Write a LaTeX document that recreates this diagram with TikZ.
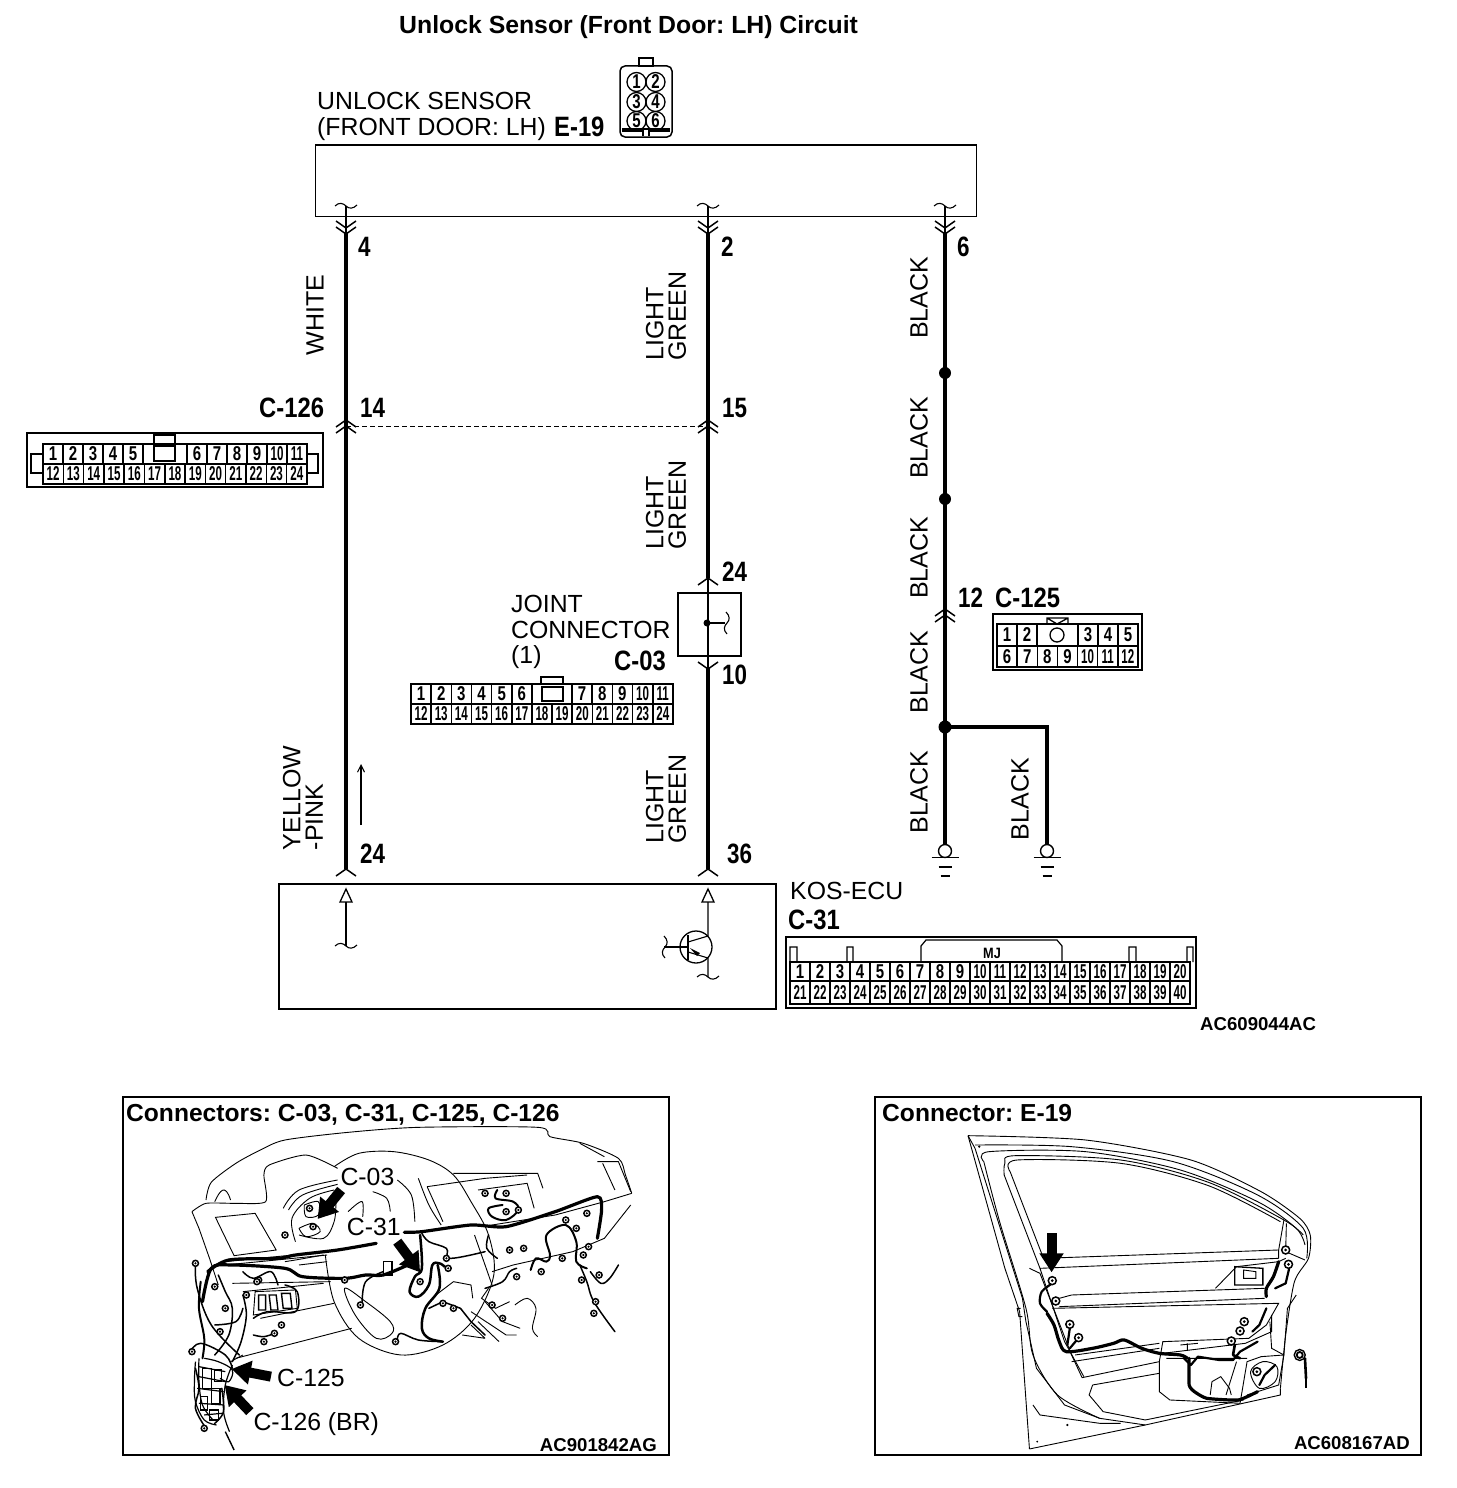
\documentclass[tikz,border=0pt]{standalone}
\usepackage{fontspec}
\usepackage{graphicx}
\setmainfont{Liberation Sans}
\usetikzlibrary{arrows.meta}
\frenchspacing
\newcommand\bc[1]{\scalebox{.8}[1]{\bfseries #1}}
\newcommand\bcc[1]{\scalebox{.85}[1]{\bfseries #1}}
\newcommand\tn[1]{\ifnum#1>9 \scalebox{.58}[1]{\bfseries #1}\else\scalebox{.75}[1]{\bfseries #1}\fi}
\newcommand\cellrow[7]{%
 \foreach \n in {#6,...,#7}{%
  \pgfmathsetmacro\cx{#2+(\n-#6)*#3}%
  \draw[cellline] (\cx,#4) rectangle ++(#3,#5);
  \node[tnum] (#1-\n) at ({\cx+#3/2},{#4+#5/2}) {\tn{\n}};
 }}
\tikzset{
 x=1pt,y=-1pt,
 wire/.style={line width=4pt},
 thinw/.style={line width=1.1pt},
 cellline/.style={line width=1.5pt},
 tnum/.style={inner sep=0pt,font=\fontsize{20}{20}\selectfont},
 lab/.style={inner sep=0pt,font=\fontsize{24.8}{25.5}\selectfont,align=left},
 rlab/.style={inner sep=0pt,font=\fontsize{25}{22.5}\selectfont,align=left,rotate=90},
 blab/.style={inner sep=0pt,font=\fontsize{28}{28}\selectfont},
 head/.style={inner sep=0pt,font=\bfseries\fontsize{24.6}{25}\selectfont},
 code/.style={inner sep=0pt,font=\bfseries\fontsize{18.6}{19}\selectfont},
 ill/.style={line width=.9pt},
 har/.style={line width=3.2pt,line cap=round,line join=round},
 blk/.style={line width=10pt,-{Triangle[length=19pt,width=23pt]}},
 chevdown/.pic={\draw[line width=1.5pt] (-10,-7)--(0,0)--(10,-7);},
 chevup/.pic={\draw[line width=1.5pt] (-10,7)--(0,0)--(10,7);},
 tilde/.pic={\draw[thinw] (-11,0) .. controls (-7,-4) and (-3,-3) .. (0,0) .. controls (3,3) and (7,3) .. (11,-1);},
 gnd/.pic={\draw[line width=1.4pt] (0,0) circle (6.5);
   \draw[line width=1.6pt] (-13.5,6.5)--(13.5,6.5) (-6.5,16)--(6.5,16) (-4.5,25)--(4.5,25);},
}
\begin{document}
\begin{tikzpicture}
\useasboundingbox (0,0) rectangle (1456,1488);
\fill[white] (0,0) rectangle (1456,1488);

% title
\node[inner sep=0pt,anchor=base west,font=\bfseries\fontsize{24.8}{25}\selectfont] (title) at (399,34) {Unlock Sensor (Front Door: LH) Circuit};

% E-19 header
\node[lab,anchor=north west] (sensorlab) at (317,92) {UNLOCK SENSOR\\(FRONT DOOR: LH)};
\node[blab,anchor=base west] (e19) at (554,136) {\bcc{E-19}};
\draw[line width=1.5pt,rounded corners=5pt] (620,66) rectangle (672,137);
\draw[line width=1.4pt] (639,66) rectangle (653,58);
\draw[line width=1.2pt] (622,129)--(670,129) (622,131)--(643,131)--(643,136) (670,131)--(649,131)--(649,136);
\foreach \i/\cxx/\cyy in {1/636.5/82,2/655.5/82,3/636.5/102,4/655.5/102,5/636.5/121,6/655.5/121}{
 \draw[line width=1.3pt] (\cxx,\cyy) circle (9.5);
 \node[tnum] (e19-\i) at (\cxx,\cyy) {\tn{\i}};
}

% sensor box
\node[draw,line width=1pt,minimum width=661pt,minimum height=71pt,inner sep=0pt,anchor=north west] (sensor) at (315,145) {};
\draw[line width=2.2pt] (sensor.north west)--(sensor.north east);

% wire coordinates
\coordinate (a0) at (346,206); \coordinate (a1) at (346,232); \coordinate (a2) at (346,869);
\coordinate (b0) at (708,206); \coordinate (b1) at (708,232); \coordinate (b2) at (708,578);
\coordinate (b3) at (708,668); \coordinate (b4) at (708,869);
\coordinate (c0) at (945,206); \coordinate (c1) at (945,232); \coordinate (c2) at (945,845);
\coordinate (cj) at (945,727); \coordinate (d1) at (1047,727); \coordinate (d2) at (1047,845);
\coordinate (s1) at (945,373); \coordinate (s2) at (945,499);

\draw[wire] (a1)--(a2);
\draw[wire] (b1)--(b2);
\draw[wire] (b3)--(b4);
\draw[wire] (c1)--(c2);
\draw[wire,line join=miter] (cj)--(d1)--(d2);
\draw[thinw] (a0)--(a1) (b0)--(b1) (c0)--(c1);
\foreach \w in {a0,b0,c0} \path (\w) pic {tilde};
\foreach \x in {346,708,945}{
 \path (\x,228) pic {chevdown};
 \path (\x,234) pic {chevdown};
}
\fill (s1) circle (6); \fill (s2) circle (6); \fill (cj) circle (6.5);

% C-126 / 15 dashed
\coordinate (da) at (346,426); \coordinate (db) at (708,426);
\draw[dashed,line width=1pt,dash pattern=on 5pt off 3pt] (da)--(db);
\foreach \x in {346,708}{\path (\x,420) pic {chevup}; \path (\x,426) pic {chevup};}
\path (945,609) pic {chevup}; \path (945,615) pic {chevup};

% joint
\node[draw,line width=1.6pt,minimum width=63pt,minimum height=63pt,inner sep=0pt,anchor=north west] (joint) at (677,592) {};
\coordinate (j1) at (708,578); \coordinate (j2) at (708,668); \coordinate (jd) at (707,623); \coordinate (jt) at (725,623);
\draw[thinw] (j1)--(j2);
\fill (jd) circle (3.5);
\draw[thinw] (jd)--(jt);
\path (jt) ++(2,0) pic[rotate=90] {tilde};
\path (708,578) pic {chevup};
\path (708,669) pic {chevdown};

% wire labels
\node[rlab] (wl1) at (315,315) {WHITE};
\node[rlab] (wl2) at (666,316) {LIGHT\\GREEN};
\node[rlab] (wl3) at (666,505) {LIGHT\\GREEN};
\node[rlab] (wl4) at (666,799) {LIGHT\\GREEN};
\node[rlab] (wl5) at (303,798) {YELLOW\\-PINK};
\foreach \i/\x/\y in {1/919/298,2/919/438,3/919/558,4/919/672,5/919/792,6/1020/799}{
 \node[rlab] (bk\i) at (\x,\y) {BLACK};
}

% pin numbers
\foreach \nm/\x/\y/\t in {p1/358/256/4,p2/721/256/2,p3/957/256/6,p4/360/417/14,p5/722/417/15,p6/722/581/24,p7/722/684/10,p8/958/607/12,p9/360/863/24,p10/727/863/36}{
 \node[blab,anchor=base west] (\nm) at (\x,\y) {\bc{\t}};
}
\foreach \nm/\x/\y/\t in {cl1/259/417/C-126,cl2/995/607/C-125,cl3/614/670/C-03,cl4/788/929/C-31}{
 \node[blab,anchor=base west] (\nm) at (\x,\y) {\bcc{\t}};
}

% ground
\path (c2) ++(0,6) pic {gnd};
\path (d2) ++(0,6) pic {gnd};

% arrow by wire
\coordinate (ua) at (361,825); \coordinate (ub) at (361,764);
\draw[line width=1.1pt,-{Straight Barb[length=7pt,width=7pt]}] (ua)--(ub);

% C-126 table
\draw[line width=2pt] (27,433) rectangle (323,487);
\draw[cellline] (43,444) rectangle (307,484);
\cellrow{c126a}{43}{20}{444}{20}{1}{5}
\foreach \n/\xx in {6/187,7/207,8/227,9/247,10/267,11/287}{
 \draw[cellline] (\xx,444) rectangle ++(20,20);
 \node[tnum] (c126b-\n) at (\xx+10,454) {\tn{\n}};
}
\foreach \n in {12,...,24}{
 \pgfmathsetmacro\cx{43+(\n-12)*20.3}
 \draw[cellline] (\cx,464) rectangle ++(20.3,20);
 \node[tnum] (c126c-\n) at (\cx+10.15,474) {\tn{\n}};
}
\draw[line width=1.2pt] (154,446) rectangle (175,461) (154,444) rectangle (175,435);
\draw[line width=1.4pt] (43,454)--(31,454)--(31,473)--(43,473) (307,454)--(318,454)--(318,473)--(307,473);

% C-03 table
\cellrow{c03a}{411}{20.15}{684}{20}{1}{6}
\foreach \n/\xx in {7/572,8/592.2,9/612.4,10/632.6,11/652.8}{
 \draw[cellline] (\xx,684) rectangle ++(20.2,20);
 \node[tnum] (c03b-\n) at (\xx+10,694) {\tn{\n}};
}
\draw[cellline] (532,684)--(572,684);
\foreach \n in {12,...,24}{
 \pgfmathsetmacro\cx{411+(\n-12)*20.15}
 \draw[cellline] (\cx,704) rectangle ++(20.15,20);
 \node[tnum] (c03c-\n) at (\cx+10.07,714) {\tn{\n}};
}
\draw[line width=1.5pt] (542,687) rectangle (563,701);
\draw[line width=1.2pt] (541,684) rectangle (563,677);
\node[lab,anchor=north west] (jointlab) at (511,595) {JOINT\\CONNECTOR\\(1)};

% C-125 table
\draw[line width=2pt] (993,614) rectangle (1142,670);
\draw[cellline] (997,624) rectangle (1138,667);
\foreach \n/\xx in {1/997,2/1017,3/1078,4/1098,5/1118}{
 \draw[cellline] (\xx,624) rectangle ++(20,22);
 \node[tnum] (c125a-\n) at (\xx+10,635) {\tn{\n}};
}
\foreach \n in {6,...,12}{
 \pgfmathsetmacro\cx{997+(\n-6)*20.14}
 \draw[cellline] (\cx,646) rectangle ++(20.14,21);
 \node[tnum] (c125b-\n) at (\cx+10.07,656.5) {\tn{\n}};
}
\draw[line width=1.3pt] (1057,635) circle (7);
\draw[line width=1.3pt] (1047,624)--(1047,618)--(1068,618)--(1068,624) (1047,618)--(1057,624)--(1068,618);

% KOS-ECU
\node[draw,line width=2.2pt,minimum width=497pt,minimum height=125pt,inner sep=0pt,anchor=north west] (kos) at (278,883) {};
\node[lab,anchor=base west] (koslab) at (790,899) {KOS-ECU};
\foreach \x in {346,708}{ \path (\x,869) pic {chevup}; }
\coordinate (t1) at (346,902); \coordinate (t1b) at (346,946);
\coordinate (t2) at (708,902); \coordinate (t2b) at (708,936);
\coordinate (t2c) at (708,958); \coordinate (t2d) at (708,977);
\foreach \x in {346,708}{\draw[line width=1.3pt] (\x,889)--(\x-6,902)--(\x+6,902)--cycle;}
\draw[thinw] (t1)--(t1b); \path (t1b) pic {tilde};
\draw[thinw] (t2)--(t2b)--(688,942);
\draw[thinw] (688,952)--(t2c)--(t2d); \path (t2d) pic {tilde};
\draw[line width=1.3pt] (696,947) circle (16);
\draw[line width=1.6pt] (688,935)--(688,960);
\draw[thinw] (664,947)--(688,947);
\path (665,947) pic[rotate=90] {tilde};
\fill (690,948)--(700,953)--(697,956)--cycle;

% C-31 table
\draw[line width=1.6pt] (786,937) rectangle (1196,1008);
\cellrow{c31a}{790}{20}{962}{19}{1}{20}
\foreach \n in {21,...,40}{
 \pgfmathsetmacro\cx{790+(\n-21)*20}
 \draw[cellline] (\cx,981) rectangle ++(20,23);
 \node[tnum] (c31b-\n) at (\cx+10,992.5) {\tn{\n}};
}
\draw[line width=1.2pt] (790,962)--(790,947)--(797,947)--(797,962)
 (847,962)--(847,947)--(853,947)--(853,962)
 (1129,962)--(1129,947)--(1136,947)--(1136,962)
 (1187,962)--(1187,947)--(1193,947)--(1193,962)
 (921,962)--(921,946)--(926,940)--(1057,940)--(1062,946)--(1062,962);
\node[inner sep=0pt,font=\bfseries\fontsize{15}{15}\selectfont] (mj) at (992,953) {\scalebox{.85}[1]{MJ}};
\node[code,anchor=base west] (code1) at (1200,1030) {AC609044AC};

% panel frames
\node[draw,line width=2pt,minimum width=546pt,minimum height=358pt,inner sep=0pt,anchor=north west] (panelL) at (122,1096) {};
\node[draw,line width=2pt,minimum width=546pt,minimum height=358pt,inner sep=0pt,anchor=north west] (panelR) at (874,1096) {};
\node[head,anchor=base west] (headL) at (126,1121) {Connectors: C-03, C-31, C-125, C-126};
\node[head,anchor=base west] (headR) at (882,1121) {Connector: E-19};
\node[code,anchor=base east] (codeL) at (657,1451) {AC901842AG};
\node[code,anchor=base east] (codeR) at (1410,1449) {AC608167AD};

% --- dashboard illustration (coordinates in crop units)
\begin{scope}[shift={(120pt,-1095pt)},x=.351pt,y=-.3333pt]
 \draw[ill] plot[smooth,tension=.45] coordinates {(245,315)(260,262)(330,205)(400,165)(470,135)(650,112)(850,97)(1190,97)(1225,125)(1320,145)(1420,190)(1440,240)(1458,295)};
 \draw[ill] (270,320) .. controls (285,285) and (300,265) .. (315,315);
 \draw[ill] plot[smooth,tension=.4] coordinates {(205,350)(245,325)(330,325)(415,320)(410,240)(425,210)(530,180)(620,220)};
 \draw[ill] (272,367)--(385,355)--(445,465)--(325,482)--cycle;
 \draw[ill] (205,350)--(225,400)--(255,490)--(280,570);
 \draw[ill] plot[smooth,tension=.55] coordinates {(585,480)(610,620)(680,730)(800,780)(920,750)(1010,670)(1065,540)(1050,420)(1000,320)(950,240)(880,195)(780,170)(680,175)(610,215)};
 \draw[ill] plot[smooth cycle,tension=.6] coordinates {(640,580)(700,620)(770,680)(775,715)(730,730)(670,660)};
 \draw[ill] plot[smooth,tension=.6] coordinates {(465,340)(510,285)(620,255)};
 \draw[ill] plot[smooth,tension=.6] coordinates {(480,345)(520,300)(620,268)};
 \draw[ill] plot[smooth,tension=.6] coordinates {(500,440)(490,370)(540,310)(610,285)};
 \draw[ill] plot[smooth,tension=.6] coordinates {(510,420)(580,430)(610,380)(615,320)};
 \draw[ill] plot[smooth,tension=.6] coordinates {(525,330)(565,320)(565,360)(530,365)(525,330)};
 \draw[ill] plot[smooth,tension=.6] coordinates {(510,400)(550,385)(570,410)(530,425)(510,400)};
 \draw[ill] plot[smooth,tension=.6] coordinates {(720,290)(760,310)(770,350)};
 \draw[ill] plot[smooth,tension=.6] coordinates {(650,350)(690,320)(690,380)};
 \draw[ill] plot[smooth,tension=.6] coordinates {(790,255)(830,300)(840,380)};
 \draw[ill] plot[smooth,tension=.6] coordinates {(850,250)(880,330)(915,390)};
 \draw[ill] (875,275)--(1040,250)--(1160,240);
 \draw[ill] (950,235)--(1190,235)--(1205,280);
 \draw[ill] (875,275)--(920,380);
 \draw[ill] (1360,200)--(1420,200)--(1455,290);
 \draw[ill] (1375,205)--(1410,285);
 \draw[ill] (1310,145)--(1380,185);
 \draw[ill] (1020,285)--(1160,265)--(1180,340);
 \draw[ill] (1458,295)--(1380,320)--(1240,360)--(1030,395);
 \draw[ill] (1455,330)--(1380,430)--(1290,470)--(1120,510)--(1060,530);
 \draw[ill] (1010,420)--(1050,540)--(1060,570);
 \draw[ill] (350,590)--(580,565);
 \draw[ill] (580,480)--(500,495)--(470,500);
 \draw[ill] (300,500)--(590,470);
 \draw[ill] (300,510)--(590,480);
 \draw[ill] (510,510)--(590,500);
 \draw[ill] (320,565)--(600,560);
 \draw[ill] (400,670)--(610,625);
 \draw[ill] (330,790)--(660,700);
 \draw[ill] (315,800)--(350,780);
 \draw[ill] plot[smooth,tension=.6] coordinates {(1125,630)(1160,610)(1185,640)(1175,700)(1190,725)};
 \draw[ill] (900,600)--(950,560)--(1000,570)--(1005,610);
 \draw[ill] (1000,650)--(1100,720)--(1130,720);
 \draw[ill] (975,720)--(1040,730) (1000,690)--(1040,730) (1020,680)--(1080,740);
 \draw[ill] (1040,620)--(1090,680)--(1140,700);
 \draw[ill] (1050,580)--(1030,610)--(1070,640)--(1110,620);
 \draw[ill] (385,590)--(500,585)--(505,640)--(380,660)--cycle;
 \draw[ill,line width=1.4pt] (395,600)--(415,600)--(415,645)--(395,645)--cycle (425,600)--(445,600)--(450,645)--(430,645)--cycle (460,595)--(485,595)--(490,640)--(465,640)--cycle;
 % lower-left bundle
 \draw[ill,line width=1.2pt] plot[smooth,tension=.6] coordinates {(215,800)(212,860)(215,920)(240,975)(275,990)};
 \draw[ill,line width=1.2pt] plot[smooth,tension=.6] coordinates {(225,790)(225,860)(235,930)(265,975)};
 \draw[ill,line width=1.2pt] plot[smooth,tension=.6] coordinates {(320,810)(300,870)(295,950)(312,1010)};
 \draw[ill,line width=1.2pt] plot[smooth,tension=.6] coordinates {(240,790)(280,800)(320,825)(310,860)(285,850)};
 \draw[ill,line width=1.2pt] (225,815)--(300,830) (225,845)--(300,860) (220,880)--(295,890) (225,925)--(295,930) (240,960)--(290,955);
 \draw[ill,line width=1.4pt] (235,820)--(235,880)--(260,880)--(260,820)--cycle (270,825)--(270,860)--(290,860)--(290,825)--cycle (230,905)--(230,945)--(250,945)--(250,905)--cycle (255,945)--(255,975)--(280,975)--(280,945)--cycle (260,880)--(260,925)--(285,925)--(285,880)--cycle;
 \draw[ill,line width=1.4pt] (300,1010)--(325,1065);
 % harness
 \draw[har] plot[smooth,tension=.5] coordinates {(250,530)(310,495)(450,490)(500,480)(620,465)(730,445)};
 \draw[har] plot[smooth,tension=.5] coordinates {(235,620)(260,520)(320,510)(470,520)(520,545)(640,550)(700,540)(750,540)(820,510)};
 \draw[har] plot[smooth,tension=.4] coordinates {(810,412)(860,410)(1000,390)(1100,395)(1240,350)(1360,305)(1372,345)(1360,430)};
 \draw[har,line width=2.5pt] plot[smooth,tension=.6] coordinates {(855,420)(860,520)(840,545)(825,590)(850,605)(880,570)(890,510)(910,505)(925,515)};
 \draw[har,line width=2.5pt] plot[smooth,tension=.6] coordinates {(905,510)(910,580)(870,640)(860,700)(880,730)(920,740)};
 \draw[har,line width=1.5pt] plot[smooth,tension=.6] coordinates {(860,415)(880,440)(930,460)(940,490)(1040,470)};
 \draw[har,line width=2pt] plot[smooth,tension=.6] coordinates {(1075,285)(1070,310)(1120,320)(1135,345)(1100,375)(1060,365)(1050,340)(1090,330)};
 \draw[har,line width=1.5pt] plot[smooth,tension=.6] coordinates {(1050,420)(1045,460)(1075,490)};
 \draw[har,line width=2pt] plot[smooth,tension=.6] coordinates {(1170,525)(1185,490)(1215,500)(1225,480)(1215,420)(1270,390)(1300,440)(1300,500)(1330,520)};
 \draw[har,line width=1.5pt] plot[smooth,tension=.6] coordinates {(1340,530)(1370,565)(1395,550)(1420,510)};
 \draw[har,line width=1.5pt] plot[smooth,tension=.6] coordinates {(1310,510)(1330,560)(1350,620)(1410,710)};
 \draw[har,line width=1.5pt] plot[smooth,tension=.6] coordinates {(1040,580)(1090,560)(1110,530)(1130,520)};
 \draw[har,line width=1.5pt] (880,640)--(920,620)--(970,640)--(1000,680)--(1040,720);
 \draw[har,line width=1.5pt] plot[smooth,tension=.6] coordinates {(790,735)(800,715)(850,735)(920,740)};
 \draw[har,line width=1.5pt] plot[smooth,tension=.6] coordinates {(690,620)(700,560)(750,530)};
 \draw[har,line width=2pt] plot[smooth,tension=.6] coordinates {(230,560)(225,640)(240,730)(235,790)};
 \draw[har,line width=1.5pt] plot[smooth,tension=.6] coordinates {(280,540)(300,590)(320,640)(310,720)(270,780)};
 \draw[har,line width=1.5pt] plot[smooth,tension=.6] coordinates {(215,510)(220,580)(260,690)(340,780)};
 \draw[har,line width=1.5pt] plot[smooth,tension=.6] coordinates {(350,600)(360,660)(345,740)(320,800)};
 \draw[har,line width=1.5pt] plot[smooth,tension=.6] coordinates {(380,670)(420,650)(500,650)(505,590)(470,570)};
 \draw[har,line width=1.5pt] plot[smooth,tension=.6] coordinates {(350,530)(380,550)(430,530)(450,570)};
 \draw[har,line width=1.5pt] plot[smooth,tension=.6] coordinates {(380,720)(410,725)(440,715)};
 \draw[har,line width=1.5pt] plot[smooth,tension=.6] coordinates {(200,770)(230,745)(300,780)(320,820)};
 \draw[har,line width=1.5pt] plot[smooth,tension=.6] coordinates {(270,690)(330,680)(350,640)};
 \draw[har,line width=1.5pt] plot[smooth,tension=.6] coordinates {(215,820)(225,880)(215,940)(245,1000)};
 \draw[har,line width=1.5pt] plot[smooth,tension=.6] coordinates {(290,880)(295,950)(270,985)};
 \draw[ill,line width=1.4pt] (750,500) rectangle (775,540);
 % small connectors
 \foreach \px/\py in {215/505,270/575,300/640,285/710,395/555,460/690,440/715,410/740,360/600,640/555,685/630,785/740,855/560,930/490,935/520,920/625,950/640,1090/670,1060/630,1130/545,1200/530,1260/490,1300/400,1270/375,1330/355,1320/480,1335/455,1365/540,1315/555,1355/620,1350/655,1110/465,1150/460,1100/350,1135/345,1040/295,1100/295,470/420,390/560,240/1000,205/770,550/395,540/340}{
  \draw[line width=1.5pt,fill=white] (\px,\py) circle (3pt);
  \fill (\px,\py) circle (1.2pt);
 }
 \draw[blk] (630,285)--(563,372);
 \draw[blk] (790,440)--(855,532);
 \draw[blk] (430,845)--(318,822);
 \draw[blk] (370,950)--(298,870);
 \node[lab,fill=white,inner sep=1pt,anchor=base] (tc03) at (705,272) {C-03};
 \node[lab,fill=white,inner sep=1pt,anchor=base] (tc31) at (723,420) {C-31};
 \node[lab,anchor=base west] (tc125) at (447,876) {C-125};
 \node[lab,anchor=base west] (tc126) at (380,1008) {C-126 (BR)};
\end{scope}

% --- door illustration
\begin{scope}[shift={(875pt,-1095pt)},x=.351pt,y=-.3333pt]
 % outer frame
 \draw[ill] (265,122)--(370,520)--(412,650)--(440,1062);
 \draw[ill] plot[smooth,tension=.45] coordinates {(265,122)(600,135)(900,195)(1100,290)(1210,370)(1240,420)(1235,490)(1195,560)(1170,720)(1155,880)};
 \draw[ill] (1155,880)--(1155,900)--(770,990)--(440,1062);
 \draw[ill] (265,122)--(285,160)--(420,610)--(430,680)--(460,820)--(540,930)--(640,970)--(770,990);
 \draw[ill] plot[smooth,tension=.5] coordinates {(285,150)(560,155)(850,200)(1090,300)(1220,400)(1230,490)};
 \draw[ill] plot[smooth,tension=.5] coordinates {(310,200)(325,170)(600,170)(870,225)(1090,320)(1200,400)(1225,450)};
 \draw[ill] plot[smooth,tension=.5] coordinates {(310,200)(355,380)(430,640)(450,780)(520,900)(640,970)};
 \draw[ill] plot[smooth,tension=.5] coordinates {(368,240)(370,205)(400,182)(700,195)(950,262)(1165,375)(1220,420)};
 \draw[ill] plot[smooth,tension=.5] coordinates {(385,230)(405,195)(700,205)(950,272)(1155,380)};
 \draw[ill] (368,240)--(470,520)--(540,740)--(595,845);
 \draw[ill] (385,230)--(480,490)--(1150,465);
 \draw[ill] (1165,375)--(1150,465)--(1150,490) (1172,385)--(1170,470)--(1225,495);
 \draw[ill] (470,520)--(1150,490);
 \draw[ill] (440,520)--(470,535)--(560,780)--(590,848)--(810,800);
 \draw[ill] (505,640)--(1150,625)--(1115,690)--(1065,730)--(820,740)--(810,800)--(810,890)--(840,915)--(1040,925);
 \draw[ill] (525,610)--(560,600)--(1110,580);
 \draw[ill] (525,635)--(1110,610);
 \draw[ill] (970,580)--(1030,515)--(1150,500)--(1170,490);
 \draw[ill,line width=1.3pt] (1025,515)--(1105,520)--(1105,570)--(1025,570)--cycle;
 \draw[ill] (1050,525)--(1085,530)--(1085,550)--(1050,550)--cycle;
 \draw[ill] (560,800)--(810,760) (570,780)--(810,745);
 \draw[ill] (620,870)--(810,835) (620,870)--(610,900)--(650,950)--(770,975)--(1050,915);
 \draw[ill] (450,930)--(470,960)--(640,985)--(700,985);
 \draw[ill] (1040,925)--(1060,800)--(1100,785)--(1165,780)--(1150,870)--(1060,900);
 \draw[ill] plot[smooth cycle,tension=.6] coordinates {(1070,830)(1105,800)(1145,815)(1140,860)(1095,880)};
 \draw[ill] (820,775)--(1055,745)--(1130,710)--(1130,660) (830,790)--(1060,790);
 \draw[ill] (955,900)--(960,860)--(985,845)--(1010,880)--(1015,900);
 \draw[ill] (1030,800)--(1000,900);
 \draw[ill] (1125,680)--(1130,760)--(1165,780);
 \draw[ill] (890,745)--(890,765) (870,750)--(920,745);
 \draw[ill] (1200,600)--(1175,640)--(1165,780);
 \draw[ill] (415,640)--(405,640)--(410,665)--(420,665);
 \fill (297,155) circle (1.3pt) (548,990) circle (1.2pt) (462,1040) circle (1pt);
 % harness
 \draw[har] plot[smooth,tension=.5] coordinates {(490,655)(510,690)(525,740)(545,770)(620,760)(680,745)(710,735)(760,760)(810,775)(870,780)(890,790)};
 \draw[har,line width=2.2pt] plot[smooth,tension=.5] coordinates {(505,565)(475,590)(470,625)(490,650)};
 \draw[har,line width=2.2pt] (555,700)--(548,750) (575,735)--(555,760);
 \draw[har] plot[smooth,tension=.3] coordinates {(895,790)(895,870)(910,890)(945,910)(1035,915)(1090,890)};
 \draw[har,line width=2.2pt] (880,790)--(900,810)--(920,785)--(980,795)--(1020,795)--(1040,770)--(1090,740);
 \draw[har,line width=2.6pt] (1025,750)--(1020,780)--(1040,790);
 \draw[har] plot[smooth,tension=.5] coordinates {(1150,500)(1135,545)(1115,580)(1115,605)};
 \draw[har,line width=2.2pt] (1140,580)--(1170,565)--(1180,520);
 \draw[har,line width=2.2pt] (1095,870)--(1110,840)--(1140,810);
 \draw[har,line width=2.2pt] (1115,640)--(1095,690)--(1075,710);
 \draw[har,line width=2.6pt] (1225,790)--(1228,850);
 \draw[ill,line width=1.6pt] (1228,850)--(1228,880);
 \draw[ill,line width=1.4pt] (1210,780) circle (5.5pt);
 \draw[ill,line width=1.8pt] (1210,780) circle (3pt);
 \foreach \px/\py in {505/557,515/618,555/688,580/728,1052/680,1040/708,1015/738,1088/830,1170/465,1178/508}{
  \draw[line width=1.5pt,fill=white] (\px,\py) circle (4pt);
  \fill (\px,\py) circle (1.5pt);
 }
 \draw[blk] (503,415)--(503,532);
\end{scope}
\end{tikzpicture}
\end{document}
